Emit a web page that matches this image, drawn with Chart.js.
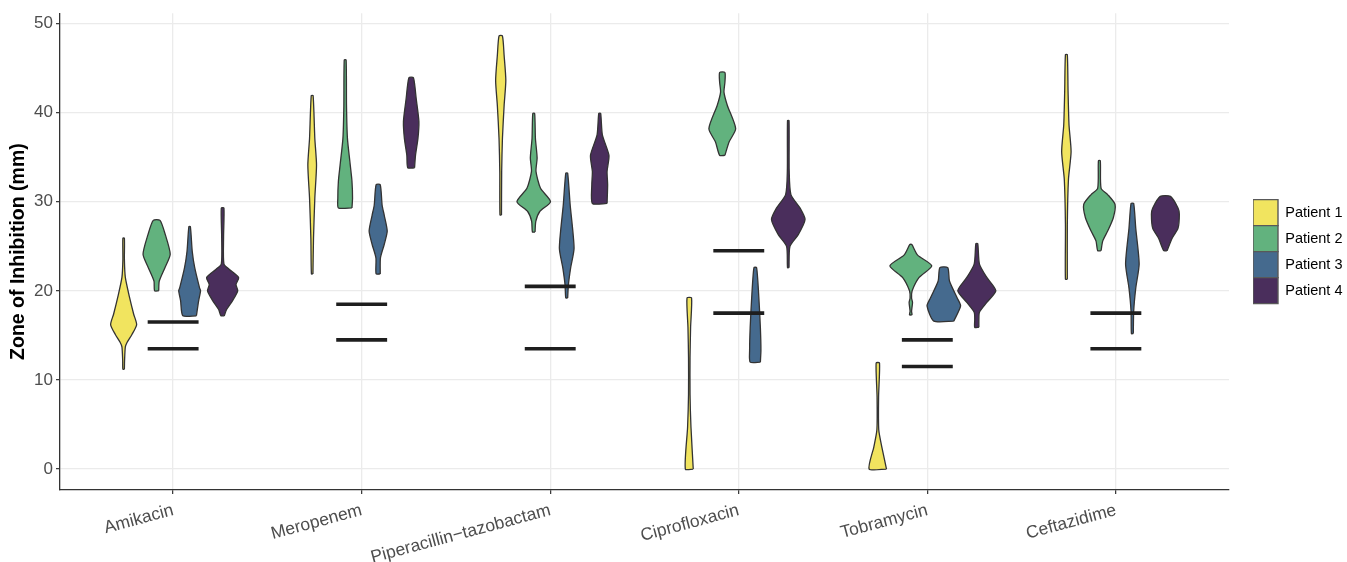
<!DOCTYPE html>
<html>
<head>
<meta charset="utf-8">
<script src="https://cdn.jsdelivr.net/npm/chart.js@4.4.1/dist/chart.umd.min.js"></script>
<style>
  html, body { margin: 0; padding: 0; background: #fff; }
</style>
</head>
<body>
<canvas id="violinChart" width="1347" height="562"></canvas>
<script>
const drugs = ["Amikacin", "Meropenem", "Piperacillin\u2212tazobactam", "Ciprofloxacin", "Tobramycin", "Ceftazidime"];
const patients = ["Patient 1", "Patient 2", "Patient 3", "Patient 4"];
const patientColors = ["#f1e45f", "#62b27e", "#456a8e", "#4a2e5c"];
const yTicks = [0, 10, 20, 30, 40, 50];
const susceptibleBreakpoints = [16.5, 18.5, 20.5, 24.5, 14.5, 17.5];
const resistantBreakpoints = [13.5, 14.5, 13.5, 17.5, 11.5, 13.5];

// violin outlines: [zone (mm), half width in category units], bottom to top
const patient1Profiles = [
  [[11.2, .004], [12.2, .005], [13.7, .009], [14.2, .018], [15.1, .044], [16.2, .069], [17.4, .053], [19.2, .032], [21.5, .009], [23.5, .004], [25.9, .004]],
  [[21.9, .004], [25.9, .007], [30.4, .014], [34.1, .023], [37.1, .014], [41.9, .005]],
  [[28.5, .004], [33.4, .005], [37.1, .009], [40.8, .018], [43.6, .027], [46.4, .018], [48.6, .009]],
  [[0, .021], [4.7, .009], [8.4, .004], [12.5, .004], [15.9, .007], [19.2, .012]],
  [[0, .046], [2.5, .021], [4.4, .005], [8.1, .004], [11.9, .009]],
  [[21.3, .005], [27.4, .005], [32.5, .011], [35.6, .025], [38.6, .014], [42.3, .009], [46.5, .005]],
];
const patient2Profiles = [
  [[20.0, .011], [21.1, .014], [22.6, .044], [24.1, .072], [26.3, .046], [27.9, .018]],
  [[29.3, .036], [30.4, .039], [32.3, .036], [34.1, .027], [37.1, .012], [40.8, .007], [45.9, .005]],
  [[26.6, .007], [27.8, .011], [28.9, .032], [30.0, .089], [31.5, .036], [33.4, .012], [34.9, .018], [37.1, .009], [39.9, .005]],
  [[35.2, .014], [36.7, .036], [38.2, .071], [40.8, .027], [42.3, .009], [43.4, .014], [44.5, .014]],
  [[17.3, .007], [17.7, .004], [18.7, .009], [19.2, .004], [20.0, .007], [21.5, .044], [22.8, .111], [24.0, .036], [25.2, .005]],
  [[24.5, .009], [25.6, .018], [26.7, .044], [28.2, .074], [29.7, .083], [30.8, .044], [31.5, .009], [34.6, .005]],
];
const patient3Profiles = [
  [[17.2, .036], [18.9, .048], [20.0, .058], [20.3, .053], [22.6, .027], [24.4, .014], [27.2, .004]],
  [[21.9, .011], [23.7, .012], [25.2, .032], [26.7, .048], [28.5, .032], [29.6, .021], [31.9, .011]],
  [[19.2, .005], [20.7, .009], [22.6, .021], [24.8, .039], [29.7, .018], [33.2, .005]],
  [[12.0, .027], [13.3, .030], [15.9, .027], [19.6, .018], [22.6, .007]],
  [[16.6, .053], [18.3, .089], [19.2, .071], [21.1, .030], [22.6, .021]],
  [[15.2, .005], [17.7, .007], [20.3, .018], [23.0, .036], [27.0, .018], [29.8, .007]],
];
const patient4Profiles = [
  [[17.2, .009], [17.9, .021], [18.9, .053], [20.0, .080], [20.7, .071], [21.5, .085], [22.4, .036], [23.0, .007], [26.0, .005], [29.3, .007]],
  [[33.8, .018], [35.2, .023], [37.1, .036], [39.0, .041], [41.5, .027], [43.9, .012]],
  [[29.8, .039], [31.9, .042], [33.4, .039], [35.2, .049], [37.5, .014], [39.9, .005]],
  [[22.6, .004], [25.0, .009], [26.3, .053], [28.0, .089], [29.3, .062], [30.8, .014], [33.4, .005], [39.1, .004]],
  [[15.9, .011], [16.8, .011], [17.6, .014], [18.7, .053], [20.0, .101], [21.5, .053], [23.0, .014], [25.3, .005]],
  [[24.5, .009], [25.9, .036], [27.0, .067], [28.6, .074], [29.3, .067], [30.6, .027]],
];

const allProfiles = [patient1Profiles, patient2Profiles, patient3Profiles, patient4Profiles];
const dodge = 0.175;
const barHalf = 0.135;
const font = "'Liberation Sans', Arial, sans-serif";

// right side going up, left side coming down, back to start
function violinOutline(centre, profile) {
  const right = profile.map(([v, w]) => ({ x: centre + w, y: v }));
  const left = profile.slice().reverse().map(([v, w]) => ({ x: centre - w, y: v }));
  return [...right, ...left, right[0]];
}

function breakpointSegments(values) {
  return values.flatMap((v, i) => [
    { x: i + 1 - barHalf, y: v },
    { x: i + 1 + barHalf, y: v },
    { x: i + 1.5, y: null },
  ]);
}

const datasets = [];
[susceptibleBreakpoints, resistantBreakpoints].forEach((values) => {
  datasets.push({
    data: breakpointSegments(values),
    borderColor: "#1e1e1e",
    borderWidth: 3.6,
    borderCapStyle: "butt",
    pointRadius: 0,
    fill: false,
    tension: 0,
    spanGaps: false,
    order: 0,
  });
});
allProfiles.forEach((profiles, p) => {
  profiles.forEach((profile, d) => {
    datasets.push({
      label: patients[p],
      data: violinOutline(d + 1 + (p - 1.5) * dodge, profile),
      fill: "shape",
      backgroundColor: patientColors[p],
      borderColor: "#333333",
      borderWidth: 1.3,
      pointRadius: 0,
      tension: 0.22,
      order: 1,
    });
  });
});

const gridStyle = {
  color: "#ebebeb",
  lineWidth: 1.3,
  tickColor: "#333333",
  tickLength: 4,
  tickWidth: 1.2,
};

new Chart(document.getElementById("violinChart"), {
  type: "line",
  data: { datasets },
  options: {
    responsive: false,
    devicePixelRatio: 1,
    animation: false,
    events: [],
    layout: { padding: { left: 7, top: 12, right: 0, bottom: 0 } },
    plugins: {
      tooltip: { enabled: false },
      legend: {
        position: "right",
        fullSize: false,
        maxWidth: 94,
        labels: {
          boxWidth: 25,
          boxHeight: 26,
          padding: 0,
          color: "#1a1a1a",
          font: { family: font, size: 14.5 },
          generateLabels: () =>
            patients.map((name, i) => ({
              text: name,
              fillStyle: patientColors[i],
              strokeStyle: "#595959",
              lineWidth: 1.4,
              hidden: false,
              datasetIndex: i,
            })),
        },
      },
    },
    scales: {
      x: {
        type: "linear",
        min: 0.4,
        max: 6.6,
        afterBuildTicks: (axis) => {
          axis.ticks = drugs.map((_, i) => ({ value: i + 1 }));
        },
        afterFit: (axis) => {
          axis.height = 72;
        },
        grid: gridStyle,
        border: { color: "#333333", width: 1.3 },
        ticks: {
          autoSkip: false,
          minRotation: 15,
          maxRotation: 15,
          padding: 6,
          color: "#4d4d4d",
          font: { family: font, size: 17.5 },
          callback: (value, index) => drugs[index],
        },
      },
      y: {
        type: "linear",
        min: -2.35,
        max: 51.15,
        afterBuildTicks: (axis) => {
          axis.ticks = yTicks.map((value) => ({ value }));
        },
        afterFit: (axis) => {
          axis.width = 53;
        },
        grid: gridStyle,
        border: { color: "#333333", width: 1.3 },
        ticks: {
          padding: 3,
          color: "#4d4d4d",
          font: { family: font, size: 17 },
        },
        title: {
          display: true,
          text: "Zone of Inhibition (mm)",
          color: "#000000",
          padding: 0,
          font: { family: font, size: 19.5, weight: "bold" },
        },
      },
      gap: {
        type: "linear",
        position: "right",
        grid: { display: false, drawTicks: false },
        border: { display: false },
        ticks: { display: false },
        afterFit: (axis) => {
          axis.width = 24;
        },
      },
    },
  },
});
</script>
</body>
</html>
